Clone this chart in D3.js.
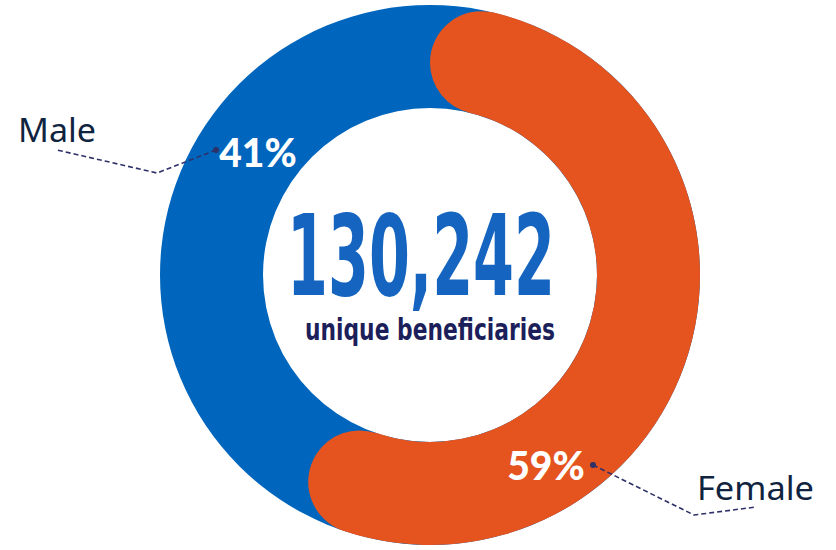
<!DOCTYPE html>
<html>
<head>
<meta charset="utf-8">
<script src="https://cdn.jsdelivr.net/npm/d3@7"></script>
<style>
  html, body { margin: 0; padding: 0; background: #fff; }
</style>
</head>
<body>
<script>
const WIDTH = 836;
const HEIGHT = 550;

// data
const categories = ['Female', 'Male'];
const shares = [59, 41];
const colors = ['#e5531e', '#0066bd'];
const total = '130,242';
const subtitle = 'unique beneficiaries';

const cx = 430;
const cy = 275;
const outerR = 270;
const innerR = 167;

const svg = d3.select('body')
  .append('svg')
  .attr('width', WIDTH)
  .attr('height', HEIGHT);

const g = svg.append('g').attr('transform', `translate(${cx},${cy})`);

const pie = d3.pie().sort(null).value(d => d.value);
const arcs = pie(categories.map((c, i) => ({name: c, value: shares[i], color: colors[i]})));

const ringArc = d3.arc().innerRadius(innerR).outerRadius(outerR);
const roundArc = d3.arc().innerRadius(innerR).outerRadius(outerR).cornerRadius((outerR - innerR) / 2);

// male ring sits under everything, female drawn on top with rounded ends
g.append('path')
  .attr('d', ringArc({startAngle: 0, endAngle: 2 * Math.PI}))
  .attr('fill', colors[1]);

g.append('path')
  .attr('d', roundArc(arcs[0]))
  .attr('fill', arcs[0].data.color);

// percentage labels
const pctPos = [[546, 465], [258, 152]];
arcs.forEach((a, i) => {
  svg.append('text')
    .attr('x', pctPos[i][0])
    .attr('y', pctPos[i][1])
    .attr('text-anchor', 'middle')
    .attr('dominant-baseline', 'central')
    .attr('font-family', 'Lato, "Open Sans", sans-serif')
    .attr('font-weight', 900)
    .attr('font-size', 39)
    .attr('fill', '#fff')
    .text(a.data.value + '%');
});

// leader lines
const leaders = [
  [[593, 465], [694, 515], [756, 507]],
  [[216, 150], [157, 173], [57, 150]]
];
const line = d3.line();
leaders.forEach(pts => {
  svg.append('path')
    .attr('d', line(pts))
    .attr('fill', 'none')
    .attr('stroke', '#2d3168')
    .attr('stroke-width', 1.6)
    .attr('stroke-dasharray', '5,3');
  svg.append('circle')
    .attr('cx', pts[0][0])
    .attr('cy', pts[0][1])
    .attr('r', 3)
    .attr('fill', '#2d3168');
});

// category names
const namePos = [[697, 500], [18, 142]];
arcs.forEach((a, i) => {
  svg.append('text')
    .attr('x', namePos[i][0])
    .attr('y', namePos[i][1])
    .attr('textLength', i === 0 ? 117 : 78)
    .attr('lengthAdjust', 'spacingAndGlyphs')
    .attr('font-family', '"Noto Sans", sans-serif')
    .attr('font-size', 33)
    .attr('fill', '#10233f')
    .text(a.data.name);
});

// centre text
svg.append('text')
  .attr('x', 287)
  .attr('y', 295)
  .attr('textLength', 268)
  .attr('lengthAdjust', 'spacingAndGlyphs')
  .attr('font-family', '"DejaVu Sans", sans-serif')
  .attr('font-weight', 'bold')
  .attr('font-size', 112)
  .attr('fill', '#1565c0')
  .text(total);

svg.append('text')
  .attr('x', 305)
  .attr('y', 340)
  .attr('textLength', 250)
  .attr('lengthAdjust', 'spacingAndGlyphs')
  .attr('font-family', '"DejaVu Sans", sans-serif')
  .attr('font-weight', 'bold')
  .attr('font-size', 31)
  .attr('fill', '#1c1f5a')
  .text(subtitle);
</script>
</body>
</html>
